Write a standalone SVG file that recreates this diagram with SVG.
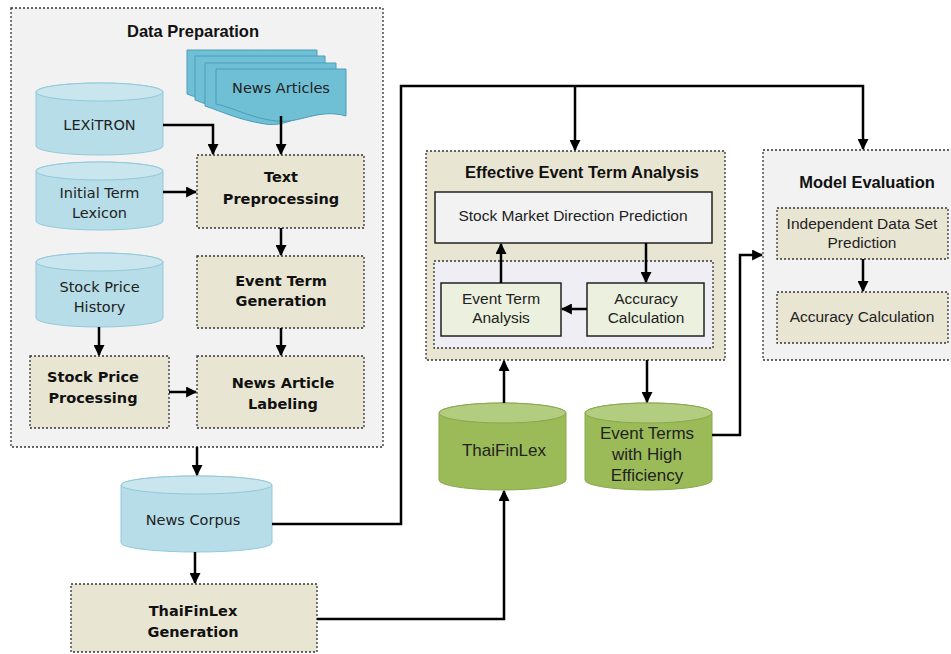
<svg xmlns="http://www.w3.org/2000/svg" width="951" height="654" viewBox="0 0 951 654">
<defs>
<marker id="ah" viewBox="0 0 10 10" refX="9" refY="5" markerWidth="4.4" markerHeight="4.4" orient="auto" markerUnits="strokeWidth">
<path d="M0,0 L10,5 L0,10 Z" fill="#000"/>
</marker>
<style>
.grp{fill:#f2f2f2;stroke:#333;stroke-width:1.3;stroke-dasharray:2 2}
.proc{fill:#e8e5d2;stroke:#333;stroke-width:1.3;stroke-dasharray:2 2}
.solid{stroke:#222;stroke-width:1.5}
.cylb{fill:#b7dde8;stroke:#93c9d9;stroke-width:1}
.cylbt{fill:#c9e6ef;stroke:#93c9d9;stroke-width:1}
.cylg{fill:#9bbb59;stroke:#8aa84e;stroke-width:1}
.cylgt{fill:#b2cc80;stroke:#8aa84e;stroke-width:1}
.page{fill:#6fbfd5;stroke:#4c9dbb;stroke-width:1}
.conn{fill:none;stroke:#000;stroke-width:2.5}
.tl{font-family:"DejaVu Sans",Verdana,sans-serif;font-size:14.5px;fill:#222;text-anchor:middle}
.tlb{font-family:"DejaVu Sans",Verdana,sans-serif;font-size:14.5px;font-weight:bold;fill:#111;text-anchor:middle}
.ta{font-family:"Liberation Sans",Arial,sans-serif;font-size:15.5px;fill:#222;text-anchor:middle}
.tac{font-family:"Liberation Sans",Arial,sans-serif;font-size:17px;fill:#222;text-anchor:middle}
.tab{font-family:"Liberation Sans",Arial,sans-serif;font-size:16.5px;font-weight:bold;fill:#111;text-anchor:middle}
</style>
</defs>

<g id="data-preparation">
<rect class="grp" x="11" y="8" width="372" height="439"/>
<text class="tab" x="193" y="37">Data Preparation</text>
</g>

<g id="lexitron">
<path class="cylb" d="M36,92 A63.5,9 0 0 1 163,92 V146 A63.5,9 0 0 1 36,146 Z"/>
<ellipse class="cylbt" cx="99.5" cy="92" rx="63.5" ry="9"/>
<text class="tl" x="99.5" y="130">LEXiTRON</text>
</g>

<g id="initial-term-lexicon">
<path class="cylb" d="M36,171 A63.5,9 0 0 1 163,171 V221 A63.5,9 0 0 1 36,221 Z"/>
<ellipse class="cylbt" cx="99.5" cy="171" rx="63.5" ry="9"/>
<text class="tl" x="99.5" y="198">Initial Term</text>
<text class="tl" x="99.5" y="218">Lexicon</text>
</g>

<g id="stock-price-history">
<path class="cylb" d="M36,262 A63.5,9 0 0 1 163,262 V318 A63.5,9 0 0 1 36,318 Z"/>
<ellipse class="cylbt" cx="99.5" cy="262" rx="63.5" ry="9"/>
<text class="tl" x="99.5" y="292">Stock Price</text>
<text class="tl" x="99.5" y="312">History</text>
</g>

<g id="news-articles">
<path class="page" d="M187,50 H317 V100 C290,96 270,118 246,114 C220,110 205,100 187,94 Z"/>
<path class="page" d="M195,56 H325 V106 C298,102 278,124 254,120 C228,116 213,106 195,100 Z"/>
<path class="page" d="M205,63 H336 V112 C309,108 289,128 265,124 C239,120 223,112 205,106 Z"/>
<path class="page" d="M216,69 H346 V116 C318,108 300,124 276,121 C250,118 235,108 216,104 Z"/>
<text class="tl" x="281" y="93">News Articles</text>
</g>

<g id="text-preprocessing">
<rect class="proc" x="197" y="155" width="167" height="73"/>
<text class="tlb" x="281" y="182">Text</text>
<text class="tlb" x="281" y="204">Preprocessing</text>
</g>

<g id="event-term-generation">
<rect class="proc" x="197" y="256" width="167" height="72"/>
<text class="tlb" x="281" y="286">Event Term</text>
<text class="tlb" x="281" y="306">Generation</text>
</g>

<g id="stock-price-processing">
<rect class="proc" x="30" y="356" width="139" height="72"/>
<text class="tlb" x="93" y="382">Stock Price</text>
<text class="tlb" x="93" y="403">Processing</text>
</g>

<g id="news-article-labeling">
<rect class="proc" x="197" y="356" width="167" height="72"/>
<text class="tlb" x="283" y="388">News Article</text>
<text class="tlb" x="283" y="409">Labeling</text>
</g>

<g id="news-corpus">
<path class="cylb" d="M121,485 A75.5,9 0 0 1 272,485 V543 A75.5,9 0 0 1 121,543 Z"/>
<ellipse class="cylbt" cx="196.5" cy="485" rx="75.5" ry="9"/>
<text class="tl" x="193" y="525">News Corpus</text>
</g>

<g id="thaifinlex-generation">
<rect class="proc" x="71" y="584" width="246" height="68"/>
<text class="tlb" x="193" y="616">ThaiFinLex</text>
<text class="tlb" x="193" y="637">Generation</text>
</g>

<g id="effective-event-term-analysis">
<rect class="proc" x="426" y="151" width="299" height="209"/>
<text class="tab" x="582" y="178">Effective Event Term Analysis</text>
</g>

<g id="stock-market-direction-prediction">
<rect x="435" y="192" width="277" height="51" fill="#f2f2f2" class="solid"/>
<text class="ta" x="573" y="221">Stock Market Direction Prediction</text>
</g>

<g id="analysis-loop">
<rect x="434" y="261" width="279" height="87" fill="#efeef5" stroke="#333" stroke-width="1.3" stroke-dasharray="2 2"/>
</g>

<g id="event-term-analysis">
<rect x="441" y="283" width="120" height="53" fill="#ebf1de" class="solid"/>
<text class="ta" x="501" y="304">Event Term</text>
<text class="ta" x="501" y="323">Analysis</text>
</g>

<g id="accuracy-calculation-1">
<rect x="587" y="283" width="117" height="53" fill="#ebf1de" class="solid"/>
<text class="ta" x="646" y="304">Accuracy</text>
<text class="ta" x="646" y="323">Calculation</text>
</g>

<g id="model-evaluation">
<rect class="grp" x="763" y="150" width="190" height="210"/>
<text class="tab" x="867" y="188">Model Evaluation</text>
</g>

<g id="independent-data-set-prediction">
<rect class="proc" x="777" y="208" width="171" height="51"/>
<text class="ta" x="862" y="229">Independent Data Set</text>
<text class="ta" x="862" y="248">Prediction</text>
</g>

<g id="accuracy-calculation-2">
<rect class="proc" x="777" y="292" width="171" height="51"/>
<text class="ta" x="862" y="322">Accuracy Calculation</text>
</g>

<g id="thaifinlex">
<path class="cylg" d="M439,413 A63.5,10 0 0 1 566,413 V480 A63.5,10 0 0 1 439,480 Z"/>
<ellipse class="cylgt" cx="502.5" cy="413" rx="63.5" ry="10"/>
<text class="tac" x="504" y="456">ThaiFinLex</text>
</g>

<g id="event-terms-high-efficiency">
<path class="cylg" d="M585,413 A63.5,10 0 0 1 712,413 V480 A63.5,10 0 0 1 585,480 Z"/>
<ellipse class="cylgt" cx="648.5" cy="413" rx="63.5" ry="10"/>
<text class="tac" x="647" y="439">Event Terms</text>
<text class="tac" x="647" y="460">with High</text>
<text class="tac" x="647" y="481">Efficiency</text>
</g>

<g id="connectors">
<path class="conn" d="M163,125 H213 V154" marker-end="url(#ah)"/>
<path class="conn" d="M281,116 V154" marker-end="url(#ah)"/>
<path class="conn" d="M163,192 H196" marker-end="url(#ah)"/>
<path class="conn" d="M281,228 V255" marker-end="url(#ah)"/>
<path class="conn" d="M281,328 V355" marker-end="url(#ah)"/>
<path class="conn" d="M99,327 V355" marker-end="url(#ah)"/>
<path class="conn" d="M169,392 H196" marker-end="url(#ah)"/>
<path class="conn" d="M197,447 V475" marker-end="url(#ah)"/>
<path class="conn" d="M195,552 V583" marker-end="url(#ah)"/>
<path class="conn" d="M272,524 H401 V86 H863 V149" marker-end="url(#ah)"/>
<path class="conn" d="M575,86 V150" marker-end="url(#ah)"/>
<path class="conn" d="M317,619 H504 V491" marker-end="url(#ah)"/>
<path class="conn" d="M504,403 V361" marker-end="url(#ah)"/>
<path class="conn" d="M647,360 V402" marker-end="url(#ah)"/>
<path class="conn" d="M712,435 H740 V255 H762" marker-end="url(#ah)"/>
<path class="conn" d="M501,283 V244" marker-end="url(#ah)"/>
<path class="conn" d="M646,243 V282" marker-end="url(#ah)"/>
<path class="conn" d="M587,309 H562" marker-end="url(#ah)"/>
<path class="conn" d="M863,259 V291" marker-end="url(#ah)"/>
</g>
</svg>
